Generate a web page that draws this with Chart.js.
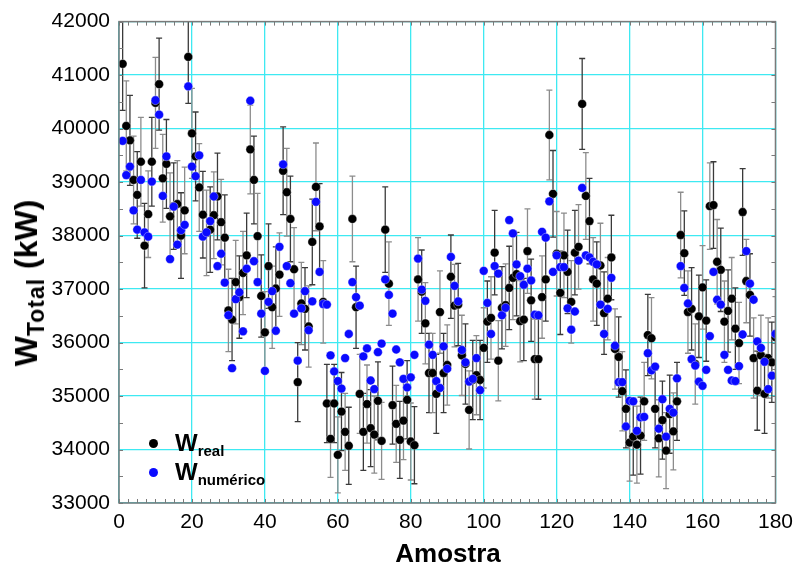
<!DOCTYPE html>
<html>
<head>
<meta charset="utf-8">
<script src="https://cdn.jsdelivr.net/npm/chart.js@4.4.1/dist/chart.umd.min.js"></script>
<style>
  html, body { margin: 0; padding: 0; background: #fff; }
  #wrap { position: relative; width: 800px; height: 569px; overflow: hidden; }
  canvas { position: absolute; left: 0; top: 0; }
  .lbl { position: absolute; font-family: "Liberation Sans", Arial, sans-serif; font-weight: bold; color: #000; white-space: nowrap; line-height: 1; }
  #ytitle { left: 26px; top: 283px; font-size: 32px; transform: translate(-50%, -50%) rotate(-90deg); }
  #ytitle sub { font-size: 23px; letter-spacing: 1px; vertical-align: baseline; position: relative; top: 7px; }
  #xtitle { left: 448px; top: 553px; font-size: 26px; transform: translate(-50%, -50%); }
  .leg { font-size: 24px; }
  .leg sub { font-size: 15px; vertical-align: baseline; position: relative; top: 5px; }
  .dot { position: absolute; width: 9px; height: 9px; border-radius: 50%; }
</style>
</head>
<body>
<div id="wrap">
  <canvas id="c" width="800" height="569"></canvas>
  <div id="ytitle" class="lbl">W<sub>Total</sub> (kW)</div>
  <div id="xtitle" class="lbl">Amostra</div>
  <span class="dot" style="left:149px;top:439px;background:#000;"></span>
  <div class="lbl leg" style="left:175px;top:431px;">W<sub>real</sub></div>
  <span class="dot" style="left:149px;top:468px;background:#0a0aff;"></span>
  <div class="lbl leg" style="left:175px;top:460px;">W<sub>numérico</sub></div>
</div>
<script>
// Sample index (Amostra) 1..180
const amostra = Array.from({ length: 180 }, (_, k) => k + 1);

// W_real (kW)
const wReal = [
  41210, 40050, 39780, 39040, 38760, 39380, 37810, 38400, 39380, 40480,
  40830, 39070, 39340, 38360, 38550, 38590, 38000, 38470, 41340, 39910,
  39480, 38900, 38390, 38050, 38110, 38380, 38730, 38250, 37960, 36600,
  36430, 37130, 36850, 37300, 37630, 39610, 39040, 37990, 36870, 36190,
  37430, 36660, 37010, 37270, 39210, 38810, 38310, 37370, 35260, 36730,
  36630, 36300, 37880, 38910, 38170, 36760, 34860, 34200, 34860, 33900,
  34710, 34330, 34070, 38310, 36660, 35040, 34330, 34850, 34400, 34280,
  34910, 34160, 38110, 37100, 34830, 34480, 34180, 34540, 34930, 34150,
  34080, 37180, 36950, 36360, 35430, 35430, 35040, 36570, 35430, 35580,
  37230, 36690, 36710, 35760, 35600, 34740, 35300, 35390, 35300, 35900,
  36390, 36460, 37680, 35660, 36650, 36700, 37020, 37210, 37280, 36400,
  36430, 37710, 36790, 35690, 35690, 36850, 37180, 39880, 38780, 37660,
  36930, 37630, 37320, 36760, 37680, 37790, 40460, 38740, 38270, 37180,
  37100, 37440, 36550, 36820, 37590, 35880, 35730, 35090, 34760, 34130,
  34240, 34090, 34260, 34900, 36140, 36080, 34760, 34210, 34550, 33980,
  34660, 34340, 34900, 38010, 37670, 36570, 36630, 35600, 36490, 37030,
  36410, 38550, 38570, 37510, 37360, 36390, 36590, 36820, 36260, 35990,
  38440, 37150, 36890, 35710, 35100, 35760, 35040, 35710, 35630, 36100
];

// Error bar half-length on W_real (kW)
const wRealErr = [
  870, 840, 840, 820, 810, 830, 790, 810, 830, 850,
  860, 820, 830, 810, 810, 810, 800, 810, 870, 840,
  830, 820, 810, 800, 800, 810, 810, 800, 800, 770,
  770, 780, 770, 780, 790, 830, 820, 800, 770, 760,
  790, 770, 780, 780, 820, 820, 800, 780, 740, 770,
  770, 760, 800, 820, 800, 770, 730, 720, 730, 710,
  730, 720, 720, 800, 770, 740, 720, 730, 720, 720,
  730, 720, 800, 780, 730, 720, 720, 730, 730, 720,
  720, 780, 780, 760, 740, 740, 740, 770, 740, 750,
  780, 770, 770, 750, 750, 730, 740, 740, 740, 750,
  760, 770, 790, 750, 770, 770, 780, 780, 780, 760,
  770, 790, 770, 750, 750, 770, 780, 840, 810, 790,
  780, 790, 780, 770, 790, 790, 850, 810, 800, 780,
  780, 790, 770, 770, 790, 750, 750, 740, 730, 720,
  720, 720, 720, 730, 760, 760, 730, 720, 730, 710,
  730, 720, 730, 800, 790, 770, 770, 750, 770, 780,
  760, 810, 810, 790, 780, 760, 770, 770, 760, 760,
  810, 780, 770, 750, 740, 750, 740, 750, 750, 760
];

// W_numérico (kW)
const wNum = [
  39770, 39130, 39290, 38470, 38110, 39040, 38060, 37980, 39010, 40530,
  40260, 38740, 39480, 37560, 38540, 37830, 38100, 38200, 40790, 39290,
  39110, 39500, 37980, 38060, 38270, 38730, 37430, 37660, 37120, 36510,
  35520, 36810, 36940, 36210, 37380, 40520, 37520, 37130, 36540, 35470,
  36760, 36960, 36220, 37790, 39330, 37430, 37110, 36540, 35660, 36640,
  36960, 36230, 36770, 38630, 37320, 36720, 36710, 35760, 35460, 35280,
  35140, 35710, 36160, 37130, 36850, 36690, 35740, 35890, 35290, 35130,
  35820, 35980, 37180, 36890, 36540, 35870, 35630, 35320, 35160, 35350,
  35770, 37570, 36990, 36780, 35960, 35770, 35280, 35150, 35930, 35510,
  37600, 37060, 36770, 35860, 35630, 35270, 35320, 35710, 35110, 37340,
  36740, 36160, 37430, 37290, 36510, 36650, 38290, 38040, 37460, 37240,
  37080, 37380, 37160, 36520, 36510, 38070, 37960, 38640, 37320, 37630,
  37410, 37410, 36640, 36240, 36580, 37530, 38890, 37630, 37590, 37510,
  37460, 36710, 36160, 36630, 37210, 35940, 35260, 35260, 34430, 34910,
  34900, 34350, 34600, 34610, 35800, 35480, 35550, 34390, 34940, 34240,
  34760, 34690, 35330, 37430, 37020, 36730, 35690, 35570, 35270, 35190,
  35490, 36120, 37320, 36800, 36710, 35770, 35490, 35290, 35280, 35560,
  36150, 37710, 37100, 36800, 36020, 35900, 35640, 35130, 35380, 36160
];

// Axis ticks
const xTicks = [0, 20, 40, 60, 80, 100, 120, 140, 160, 180];
const yTicks = [33000, 34000, 35000, 36000, 37000, 38000, 39000, 40000, 41000, 42000];

const realPts = amostra.map((a, k) => ({ x: a, y: wReal[k] }));
const numPts = amostra.map((a, k) => ({ x: a, y: wNum[k] }));

const GRID = '#3ee9f2';
const FRAME = '#7a7a7a';

// error bars drawn beneath the points, through the library's scales
const errorBars = {
  id: 'errorBars',
  beforeDatasetsDraw(chart) {
    const { ctx, scales: { x, y }, chartArea } = chart;
    ctx.save();
    ctx.beginPath();
    ctx.rect(chartArea.left, chartArea.top, chartArea.right - chartArea.left, chartArea.bottom - chartArea.top);
    ctx.clip();
    amostra.forEach((a, k) => {
      const px = x.getPixelForValue(a);
      const top = y.getPixelForValue(wReal[k] + wRealErr[k]);
      const bot = y.getPixelForValue(wReal[k] - wRealErr[k]);
      ctx.strokeStyle = k % 2 ? '#8c8c8c' : '#3a3a3a';
      ctx.lineWidth = 1.3;
      ctx.beginPath();
      ctx.moveTo(px, top); ctx.lineTo(px, bot);
      ctx.moveTo(px - 3, top); ctx.lineTo(px + 3, top);
      ctx.moveTo(px - 3, bot); ctx.lineTo(px + 3, bot);
      ctx.stroke();
    });
    ctx.restore();
  }
};

// frame + minor ticks
const frameTicks = {
  id: 'frameTicks',
  afterDatasetsDraw(chart) {
    const { ctx, scales: { x, y }, chartArea: a } = chart;
    ctx.save();
    ctx.strokeStyle = FRAME;
    ctx.lineWidth = 1;
    ctx.beginPath();
    for (let v = 0; v <= 180; v += 2.5) {
      const px = Math.round(x.getPixelForValue(v)) + 0.5;
      ctx.moveTo(px, a.bottom); ctx.lineTo(px, a.bottom - 4);
      ctx.moveTo(px, a.top); ctx.lineTo(px, a.top + 4);
    }
    for (let v = 33000; v <= 42000; v += 500) {
      const py = Math.round(y.getPixelForValue(v)) + 0.5;
      ctx.moveTo(a.left, py); ctx.lineTo(a.left + 4, py);
      ctx.moveTo(a.right, py); ctx.lineTo(a.right - 4, py);
    }
    ctx.stroke();
    ctx.lineWidth = 1.5;
    ctx.strokeRect(a.left, a.top, a.right - a.left, a.bottom - a.top);
    ctx.restore();
  }
};

new Chart(document.getElementById('c'), {
  type: 'scatter',
  data: {
    datasets: [
      {
        label: 'W real',
        data: realPts,
        order: 2,
        pointRadius: 4.4,
        pointBackgroundColor: '#000',
        pointBorderColor: 'rgba(255,255,255,0.6)',
        pointBorderWidth: 0.6
      },
      {
        label: 'W numérico',
        data: numPts,
        order: 1,
        pointRadius: 4.4,
        pointBackgroundColor: '#0a0aff',
        pointBorderColor: 'rgba(255,255,255,0.6)',
        pointBorderWidth: 0.6
      }
    ]
  },
  options: {
    responsive: false,
    animation: false,
    events: [],
    layout: { padding: { left: 0, right: 20, top: 21, bottom: 0 } },
    plugins: { legend: { display: false }, tooltip: { enabled: false } },
    scales: {
      x: {
        type: 'linear', min: 0, max: 180,
        afterBuildTicks(s) { s.ticks = xTicks.map(v => ({ value: v })); },
        afterFit(s) { s.height = 66; },
        ticks: {
          callback: v => String(v), color: '#000', padding: 7,
          maxRotation: 0, autoSkip: false,
          font: { family: '"Liberation Sans", Arial, sans-serif', size: 21 }
        },
        grid: { color: GRID, lineWidth: 1.3, drawTicks: false },
        border: { display: false }
      },
      y: {
        type: 'linear', min: 33000, max: 42000,
        afterBuildTicks(s) { s.ticks = yTicks.map(v => ({ value: v })); },
        afterFit(s) { s.width = 119; },
        ticks: {
          callback: v => String(v), color: '#000', padding: 9,
          font: { family: '"Liberation Sans", Arial, sans-serif', size: 21 }
        },
        grid: { color: GRID, lineWidth: 1.3, drawTicks: false },
        border: { display: false }
      }
    }
  },
  plugins: [errorBars, frameTicks]
});
</script>
</body>
</html>
